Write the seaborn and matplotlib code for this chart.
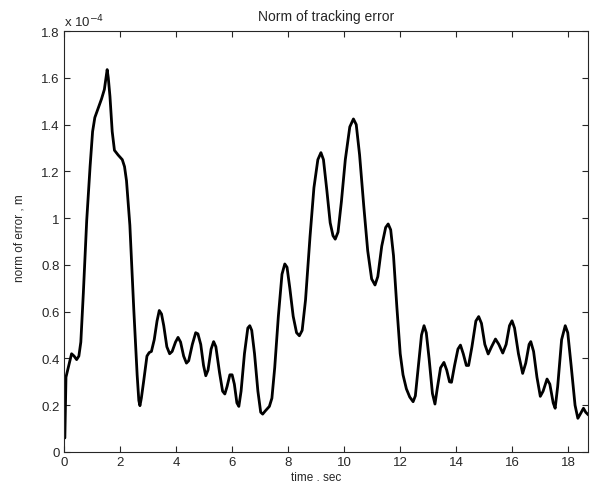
import matplotlib
matplotlib.use("Agg")
import matplotlib.pyplot as plt
import seaborn as sns
import pandas as pd
from matplotlib.ticker import FormatStrFormatter

# time (sec) and tracking error norm (x 1e-4 m)
time_sec = [0.0, 0.03, 0.07, 0.15, 0.27, 0.36, 0.45, 0.53, 0.6, 0.69,
            0.81, 0.93, 1.02, 1.1, 1.22, 1.34, 1.44, 1.5, 1.54, 1.58,
            1.64, 1.72, 1.8, 1.93, 2.08, 2.16, 2.23, 2.35, 2.49, 2.61,
            2.67, 2.71, 2.76, 2.84, 2.96, 3.04, 3.12, 3.22, 3.32, 3.4,
            3.48, 3.56, 3.67, 3.77, 3.86, 3.98, 4.07, 4.16, 4.27, 4.37,
            4.45, 4.58, 4.7, 4.78, 4.88, 4.98, 5.06, 5.14, 5.25, 5.34,
            5.42, 5.55, 5.66, 5.74, 5.82, 5.92, 6.0, 6.08, 6.17, 6.24,
            6.32, 6.44, 6.56, 6.63, 6.7, 6.8, 6.92, 7.02, 7.09, 7.18,
            7.33, 7.42, 7.52, 7.65, 7.78, 7.88, 7.96, 8.06, 8.18, 8.3,
            8.4, 8.5, 8.62, 8.78, 8.92, 9.06, 9.17, 9.26, 9.38, 9.5,
            9.6, 9.68, 9.78, 9.9, 10.04, 10.2, 10.33, 10.43, 10.55, 10.7,
            10.84, 10.98, 11.1, 11.2, 11.34, 11.48, 11.57, 11.66, 11.76, 11.88,
            12.0, 12.1, 12.22, 12.34, 12.46, 12.54, 12.64, 12.76, 12.85, 12.93,
            13.03, 13.15, 13.24, 13.32, 13.44, 13.56, 13.66, 13.76, 13.83, 13.94,
            14.06, 14.15, 14.25, 14.36, 14.44, 14.56, 14.7, 14.8, 14.9, 15.02,
            15.14, 15.26, 15.4, 15.52, 15.66, 15.78, 15.9, 15.99, 16.08, 16.22,
            16.37, 16.48, 16.6, 16.66, 16.76, 16.88, 17.0, 17.1, 17.24, 17.34,
            17.46, 17.53, 17.62, 17.76, 17.89, 17.98, 18.1, 18.24, 18.34, 18.44,
            18.54, 18.62, 18.72]
err_e4 = [0.06, 0.06, 0.32, 0.36, 0.42, 0.41, 0.395, 0.41, 0.47, 0.68,
          0.99, 1.22, 1.37, 1.43, 1.47, 1.51, 1.55, 1.6, 1.635, 1.6,
          1.52, 1.37, 1.29, 1.27, 1.25, 1.22, 1.16, 0.97, 0.61, 0.33,
          0.22, 0.198, 0.23, 0.3, 0.41, 0.425, 0.43, 0.48, 0.56, 0.605,
          0.59, 0.54, 0.45, 0.42, 0.43, 0.47, 0.49, 0.47, 0.41, 0.38,
          0.39, 0.46, 0.51, 0.505, 0.46, 0.37, 0.326, 0.35, 0.44, 0.472,
          0.45, 0.34, 0.26, 0.248, 0.28, 0.33, 0.33, 0.29, 0.21, 0.195,
          0.26, 0.42, 0.53, 0.54, 0.52, 0.42, 0.26, 0.17, 0.162, 0.175,
          0.195, 0.23, 0.36, 0.58, 0.76, 0.804, 0.79, 0.7, 0.58, 0.51,
          0.497, 0.52, 0.65, 0.92, 1.13, 1.25, 1.28, 1.25, 1.12, 0.98,
          0.925, 0.91, 0.94, 1.07, 1.25, 1.39, 1.424, 1.4, 1.27, 1.05,
          0.86, 0.74, 0.714, 0.75, 0.88, 0.96, 0.975, 0.95, 0.84, 0.62,
          0.42, 0.33, 0.27, 0.235, 0.215, 0.24, 0.36, 0.5, 0.54, 0.51,
          0.4, 0.25, 0.205, 0.27, 0.36, 0.383, 0.35, 0.3, 0.298, 0.37,
          0.44, 0.457, 0.42, 0.37, 0.37, 0.45, 0.56, 0.579, 0.55, 0.46,
          0.419, 0.45, 0.483, 0.46, 0.423, 0.46, 0.54, 0.561, 0.53, 0.42,
          0.336, 0.38, 0.46, 0.472, 0.43, 0.32, 0.238, 0.26, 0.312, 0.29,
          0.21, 0.187, 0.28, 0.48, 0.54, 0.51, 0.37, 0.2, 0.144, 0.165,
          0.187, 0.17, 0.158]

x_ticks = [0, 2, 4, 6, 8, 10, 12, 14, 16, 18]
y_ticks = [0, 0.2, 0.4, 0.6, 0.8, 1.0, 1.2, 1.4, 1.6, 1.8]

df = pd.DataFrame({"t": time_sec, "err": err_e4})

sns.set_style("ticks")
plt.rcParams["font.family"] = ["Liberation Sans", "DejaVu Sans"]
plt.rcParams["xtick.direction"] = "in"
plt.rcParams["ytick.direction"] = "in"

fig = plt.figure(figsize=(5.9, 4.85), dpi=100)
ax = fig.add_axes([0.1085, 0.066, 0.888, 0.868])
sns.lineplot(data=df, x="t", y="err", color="black", linewidth=2.0, ax=ax)

ax.set_xlim(0, 18.7)
ax.set_ylim(0, 1.8)
ax.set_xticks(x_ticks)
ax.set_yticks(y_ticks)
ax.yaxis.set_major_formatter(FormatStrFormatter("%g"))
ax.tick_params(top=True, right=True, labelsize=9.5, length=4, width=0.8, pad=3)
for s in ax.spines.values():
    s.set_visible(True)
    s.set_linewidth(0.8)

ax.set_title("Norm of tracking error", fontsize=10, pad=8)
ax.set_xlabel("time . sec", fontsize=8.5)
ax.xaxis.set_label_coords(0.481, -0.046)
ax.set_ylabel("norm of error , m", fontsize=8.5)
ax.yaxis.set_label_coords(-0.074, 0.51)
ax.text(0.0, 1.004, r"x 10$^{-4}$", transform=ax.transAxes, fontsize=9.5,
        ha="left", va="bottom")

fig.savefig("out.png", dpi=100)
